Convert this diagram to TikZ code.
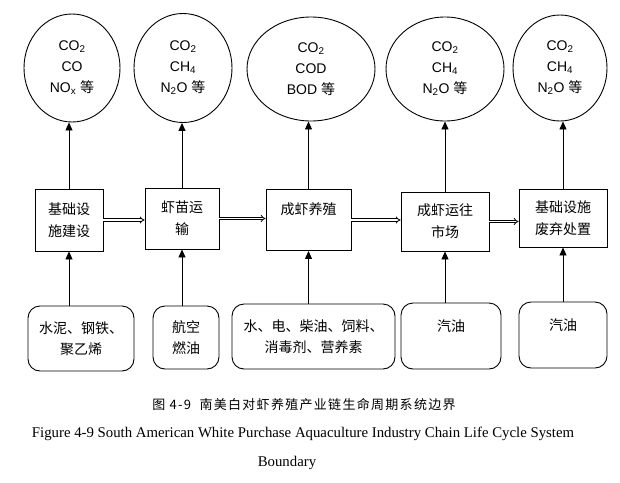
\documentclass[tikz,border=0pt]{standalone}
\usepackage{fontspec}
\setmainfont{Liberation Sans}
\newfontfamily\cjk{Noto Sans CJK SC}
\newfontfamily\capcjk[LetterSpace=10]{Noto Sans CJK SC}
\newfontfamily\capfont{Liberation Serif}
\usetikzlibrary{shapes.geometric,arrows.meta}

\begin{document}
\begin{tikzpicture}[x=1pt,y=-1pt,line width=0.9pt,
  gas/.style={draw,ellipse,inner sep=0pt,align=center,font=\fontsize{14}{21}\selectfont},
  stage/.style={draw,rectangle,inner sep=0pt,align=center,font=\cjk\fontsize{14}{22}\selectfont},
  input/.style={draw,rectangle,rounded corners=12pt,inner sep=0pt,align=center,font=\cjk\fontsize{14}{21}\selectfont},
  flow/.style={-{Triangle[width=7pt,length=8pt]}},
  chain/.style={double,line width=0.8pt,double distance=1.6pt,-{Implies}}]

\useasboundingbox (0,0) rectangle (620,482);

\node[gas,minimum width=96,minimum height=108] (e1) at (72,68) {CO\textsubscript{2}\\CO\\NO\textsubscript{x} {\cjk 等}};
\node[gas,minimum width=98,minimum height=109] (e2) at (183,68) {CO\textsubscript{2}\\CH\textsubscript{4}\\N\textsubscript{2}O {\cjk 等}};
\node[gas,minimum width=128,minimum height=104] (e3) at (311,69) {CO\textsubscript{2}\\COD\\BOD {\cjk 等}};
\node[gas,minimum width=118,minimum height=104] (e4) at (445,69) {CO\textsubscript{2}\\CH\textsubscript{4}\\N\textsubscript{2}O {\cjk 等}};
\node[gas,minimum width=94,minimum height=106] (e5) at (560,68) {CO\textsubscript{2}\\CH\textsubscript{4}\\N\textsubscript{2}O {\cjk 等}};

\node[stage,minimum width=68,minimum height=62] (b1) at (69,220) {基础设\\施建设};
\node[stage,minimum width=74,minimum height=61] (b2) at (182,218.5) {虾苗运\\输};
\node[stage,minimum width=85,minimum height=61] (b3) at (308.5,220) {成虾养殖\\~};
\node[stage,minimum width=88,minimum height=59] (b4) at (445,221.5) {成虾运往\\市场};
\node[stage,minimum width=88,minimum height=58] (b5) at (563,218) {基础设施\\废弃处置};

\node[input,minimum width=106,minimum height=65] (r1) at (81,338.5) {水泥、钢铁、\\聚乙烯};
\node[input,minimum width=66,minimum height=63] (r2) at (186,337.5) {航空\\燃油};
\node[input,minimum width=163,minimum height=65] (r3) at (313.5,336.5) {水、电、柴油、饲料、\\消毒剂、营养素};
\node[input,minimum width=100,minimum height=66] (r4) at (451,336) {汽油\\~};
\node[input,minimum width=88,minimum height=66] (r5) at (563,335) {汽油\\~};

\draw[flow] (b1.north) -- (b1.north |- e1.south);
\draw[flow] (b2.north) -- (b2.north |- e2.south);
\draw[flow] (b3.north) -- (b3.north |- e3.south);
\draw[flow] (b4.north) -- (b4.north |- e4.south);
\draw[flow] (b5.north) -- (b5.north |- e5.south);

\draw[flow] (b1.south |- r1.north) -- (b1.south);
\draw[flow] (b2.south |- r2.north) -- (b2.south);
\draw[flow] (b3.south |- r3.north) -- (b3.south);
\draw[flow] (b4.south |- r4.north) -- (b4.south);
\draw[flow] (b5.south |- r5.north) -- (b5.south);

\draw[chain] (b1.east) -- (b2.west |- b1.east);
\draw[chain] (b2.east) -- (b3.west |- b2.east);
\draw[chain] (b3.east) -- (b4.west |- b3.east);
\draw[chain] (b4.east) -- (b5.west |- b4.east);

\node[font=\capcjk\fontsize{13}{15}\selectfont] (cn) at (304,405) {图 4-9 \ 南美白对虾养殖产业链生命周期系统边界};
\node[font=\capfont\fontsize{14.8}{17}\selectfont] (en1) at (303,434) {Figure 4-9 South American White Purchase Aquaculture Industry Chain Life Cycle System};
\node[font=\capfont\fontsize{14.8}{17}\selectfont] (en2) at (287,463) {Boundary};
\end{tikzpicture}
\end{document}
